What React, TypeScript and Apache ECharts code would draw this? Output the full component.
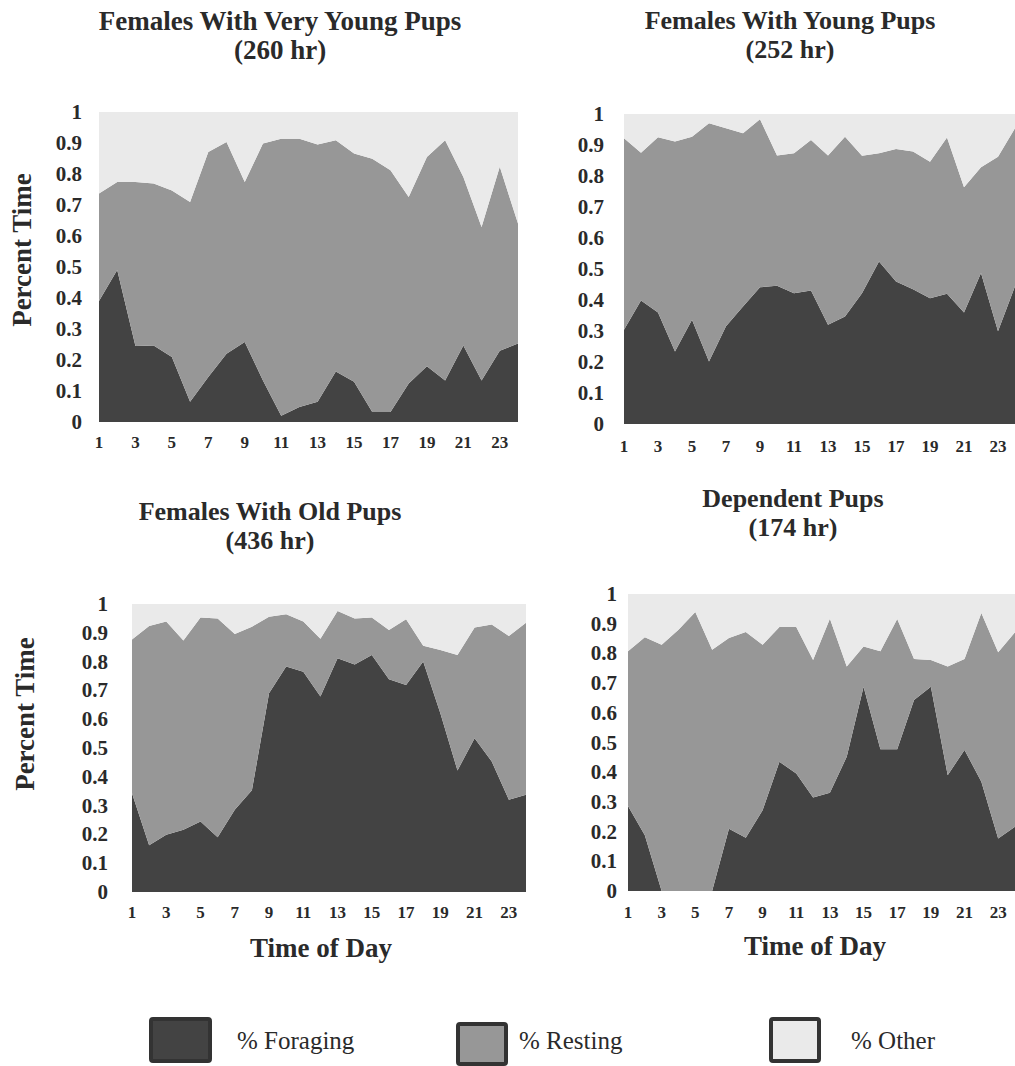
import React, { useEffect, useRef } from "react";
import * as echarts from "echarts";

// Hour of day categories
const hours = ["1", "2", "3", "4", "5", "6", "7", "8", "9", "10", "11", "12", "13", "14", "15", "16", "17", "18", "19", "20", "21", "22", "23", "24"];
const yTicks = ["0", "0.1", "0.2", "0.3", "0.4", "0.5", "0.6", "0.7", "0.8", "0.9", "1"];

// Foraging share and cumulative (foraging + resting) share
const veryYoungForaging = [0.39, 0.49, 0.245, 0.247, 0.21, 0.065, 0.145, 0.22, 0.258, 0.134, 0.02, 0.048, 0.065, 0.163, 0.13, 0.032, 0.032, 0.124, 0.18, 0.134, 0.247, 0.134, 0.23, 0.253];
const veryYoungCumulative = [0.737, 0.774, 0.774, 0.769, 0.747, 0.71, 0.871, 0.903, 0.774, 0.898, 0.914, 0.914, 0.895, 0.909, 0.866, 0.849, 0.812, 0.726, 0.855, 0.909, 0.79, 0.629, 0.823, 0.64];

const youngForaging = [0.304, 0.398, 0.36, 0.234, 0.336, 0.202, 0.315, 0.379, 0.441, 0.446, 0.422, 0.431, 0.32, 0.347, 0.422, 0.524, 0.46, 0.435, 0.406, 0.42, 0.36, 0.487, 0.299, 0.444];
const youngCumulative = [0.922, 0.875, 0.925, 0.911, 0.927, 0.97, 0.954, 0.938, 0.983, 0.866, 0.873, 0.916, 0.866, 0.927, 0.865, 0.873, 0.887, 0.879, 0.846, 0.924, 0.764, 0.828, 0.862, 0.954];

const oldForaging = [0.343, 0.162, 0.199, 0.216, 0.245, 0.19, 0.286, 0.353, 0.69, 0.783, 0.765, 0.679, 0.812, 0.79, 0.823, 0.739, 0.719, 0.8, 0.621, 0.422, 0.534, 0.453, 0.32, 0.338];
const oldCumulative = [0.877, 0.924, 0.939, 0.873, 0.953, 0.95, 0.896, 0.921, 0.956, 0.964, 0.939, 0.879, 0.976, 0.95, 0.953, 0.91, 0.947, 0.855, 0.84, 0.823, 0.918, 0.929, 0.889, 0.935];

const pupsForaging = [0.286, 0.188, 0, 0, 0, 0, 0.21, 0.179, 0.272, 0.435, 0.396, 0.315, 0.331, 0.452, 0.688, 0.477, 0.477, 0.643, 0.688, 0.39, 0.475, 0.368, 0.177, 0.216];
const pupsCumulative = [0.807, 0.854, 0.829, 0.88, 0.939, 0.812, 0.852, 0.872, 0.829, 0.889, 0.889, 0.778, 0.917, 0.756, 0.823, 0.807, 0.916, 0.781, 0.778, 0.756, 0.781, 0.936, 0.804, 0.871];

const panelTitles = ["Females With Very Young Pups", "Females With Young Pups", "Females With Old Pups", "Dependent Pups"];
const panelHours = ["(260 hr)", "(252 hr)", "(436 hr)", "(174 hr)"];
const seriesNames = ["% Foraging", "% Resting", "% Other"];
const yAxisTitle = "Percent Time";
const xAxisTitle = "Time of Day";

const COLORS = ["#434343", "#979797", "#eaeaea"];
const INK = "#2a2a2a";
const FONT = "Liberation Serif";

const panels = [
  { foraging: veryYoungForaging, cumulative: veryYoungCumulative, grid: { left: 99, top: 112, width: 419, height: 310 }, yMargin: 17, xMargin: 12, yName: { x: 22, y: 250 }, xName: null, titleX: 280, titleY: 6, titleSize: 27 },
  { foraging: youngForaging, cumulative: youngCumulative, grid: { left: 624, top: 114, width: 394, height: 310 }, yMargin: 20, xMargin: 14, yName: null, xName: null, titleX: 790, titleY: 6, titleSize: 26 },
  { foraging: oldForaging, cumulative: oldCumulative, grid: { left: 132, top: 604, width: 394, height: 288 }, yMargin: 24, xMargin: 12, yName: { x: 25, y: 714 }, xName: { x: 321, y: 948 }, titleX: 270, titleY: 497, titleSize: 26 },
  { foraging: pupsForaging, cumulative: pupsCumulative, grid: { left: 628, top: 594, width: 389, height: 297 }, yMargin: 11, xMargin: 13, yName: null, xName: { x: 815, y: 946 }, titleX: 793, titleY: 484, titleSize: 26 },
];

const legendItems = [
  { box: { x: 151, y: 1019, w: 59, h: 42 }, textX: 237 },
  { box: { x: 458, y: 1024, w: 48, h: 40 }, textX: 519 },
  { box: { x: 771, y: 1019, w: 48, h: 42 }, textX: 851 },
];

function buildOption() {
  const grid: any[] = [];
  const xAxis: any[] = [];
  const yAxis: any[] = [];
  const series: any[] = [];
  const graphic: any[] = [];

  panels.forEach((p, i) => {
    grid.push({ ...p.grid, containLabel: false });
    xAxis.push({
      type: "category",
      gridIndex: i,
      data: hours,
      boundaryGap: false,
      axisLine: { show: false },
      axisTick: { show: false },
      axisLabel: { interval: 1, margin: p.xMargin, fontFamily: FONT, fontWeight: "bold", fontSize: 17, color: INK },
    });
    yAxis.push({
      type: "value",
      gridIndex: i,
      min: 0,
      max: 1,
      interval: 0.1,
      splitLine: { show: false },
      axisLine: { show: false },
      axisTick: { show: false },
      axisLabel: {
        margin: p.yMargin,
        fontFamily: FONT,
        fontWeight: "bold",
        fontSize: 21,
        color: INK,
        formatter: (v: number) => yTicks[Math.round(v * 10)],
      },
    });
    const resting = p.cumulative.map((c, k) => +(c - p.foraging[k]).toFixed(3));
    const other = p.cumulative.map((c) => +(1 - c).toFixed(3));
    const bands = [p.foraging, resting, other];
    bands.forEach((d, j) => {
      series.push({
        type: "line",
        name: seriesNames[j],
        xAxisIndex: i,
        yAxisIndex: i,
        stack: "panel" + i,
        data: d,
        symbol: "none",
        lineStyle: { width: 0 },
        areaStyle: { color: COLORS[j], opacity: 1 },
        itemStyle: { color: COLORS[j] },
      });
    });
    graphic.push({
      type: "text",
      x: p.titleX,
      y: p.titleY,
      style: {
        text: panelTitles[i] + "\n" + panelHours[i],
        textAlign: "center",
        fontFamily: FONT,
        fontWeight: "bold",
        fontSize: p.titleSize,
        lineHeight: 29,
        fill: INK,
      },
    });
    if (p.yName) {
      graphic.push({
        type: "text",
        x: p.yName.x,
        y: p.yName.y,
        rotation: Math.PI / 2,
        style: {
          text: yAxisTitle,
          textAlign: "center",
          textVerticalAlign: "middle",
          fontFamily: FONT,
          fontWeight: "bold",
          fontSize: 27,
          fill: INK,
        },
      });
    }
    if (p.xName) {
      graphic.push({
        type: "text",
        x: p.xName.x,
        y: p.xName.y,
        style: {
          text: xAxisTitle,
          textAlign: "center",
          textVerticalAlign: "middle",
          fontFamily: FONT,
          fontWeight: "bold",
          fontSize: 27,
          fill: INK,
        },
      });
    }
  });

  legendItems.forEach((l, j) => {
    graphic.push({
      type: "rect",
      shape: { x: l.box.x, y: l.box.y, width: l.box.w, height: l.box.h, r: 2 },
      style: { fill: COLORS[j], stroke: "#333333", lineWidth: 4 },
    });
    graphic.push({
      type: "text",
      x: l.textX,
      y: 1040,
      style: {
        text: seriesNames[j],
        textVerticalAlign: "middle",
        fontFamily: FONT,
        fontSize: 25,
        fill: INK,
      },
    });
  });

  return { animation: false, backgroundColor: "#ffffff", grid, xAxis, yAxis, series, graphic };
}

export default function App() {
  const ref = useRef<HTMLDivElement>(null);
  useEffect(() => {
    document.body.style.margin = "0";
    if (!ref.current) return;
    const chart = echarts.init(ref.current, null, { renderer: "svg" });
    chart.setOption(buildOption() as any);
    return () => chart.dispose();
  }, []);
  return <div ref={ref} style={{ width: 1015, height: 1066 }} />;
}
